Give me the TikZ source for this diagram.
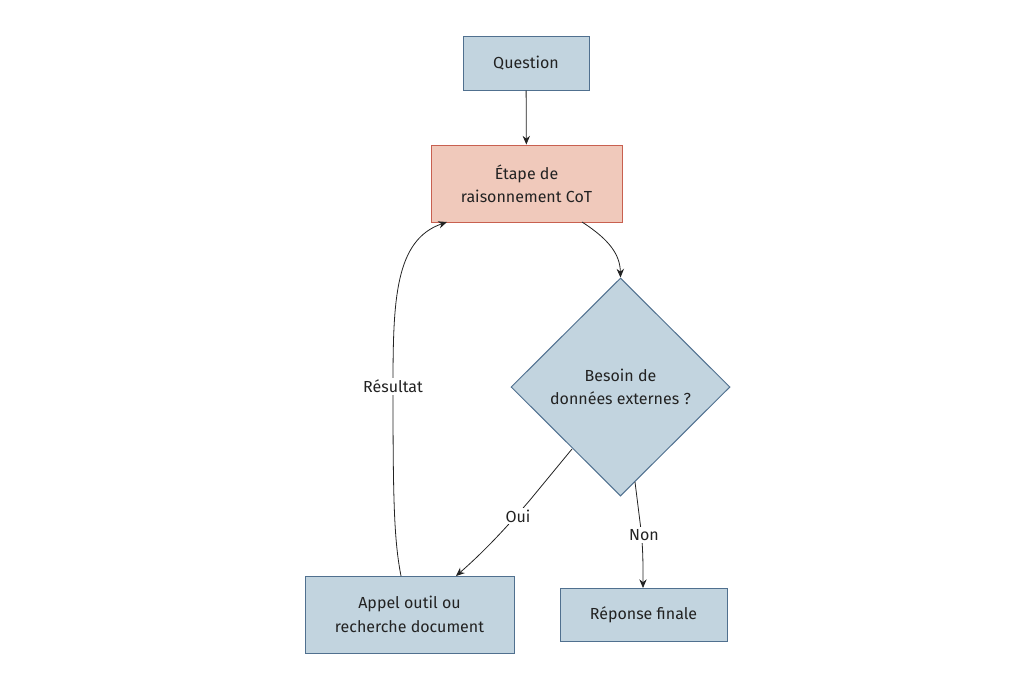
\documentclass[tikz,border=0pt]{standalone}
\usepackage{fontspec}
\setmainfont{Fira Sans}
\usetikzlibrary{shapes.geometric,arrows.meta,calc}
\definecolor{bfill}{HTML}{C2D4DF}
\definecolor{bdraw}{HTML}{50708F}
\definecolor{rfill}{HTML}{F0C9BB}
\definecolor{rdraw}{HTML}{C86050}
\definecolor{ink}{HTML}{222222}
\tikzset{
  box/.style={rectangle, fill=bfill, draw=bdraw, line width=0.75pt, align=center, inner sep=0pt, font=\fontsize{12}{17.5}\selectfont, text=ink},
  redbox/.style={box, fill=rfill, draw=rdraw},
  dec/.style={diamond, fill=bfill, draw=bdraw, line width=0.75pt, align=center, inner sep=0pt, font=\fontsize{12}{17.5}\selectfont, text=ink},
  conn/.style={draw=ink, line width=0.6pt, -{Stealth[length=6.5pt,width=5.5pt]}},
  lbl/.style={fill=white, inner sep=1.5pt, font=\fontsize{12}{14}\selectfont, text=ink}
}
\begin{document}
\begin{tikzpicture}[x=0.75pt,y=-0.75pt]
\useasboundingbox (0,0) rectangle (1035,690);
\node[box, minimum width=126*0.75pt, minimum height=54*0.75pt] (q) at (526,63) {Question};
\node[redbox, minimum width=191*0.75pt, minimum height=77*0.75pt] (cot) at (526.5,183.5) {Étape de\\raisonnement CoT};
\node[dec, minimum width=219*0.75pt, minimum height=218*0.75pt] (d) at (620.5,387) {Besoin de\\données externes ?};
\node[box, minimum width=209*0.75pt, minimum height=77*0.75pt] (app) at (409.5,614.5) {Appel outil ou\\recherche document};
\node[box, minimum width=167*0.75pt, minimum height=53*0.75pt] (rep) at (643.5,614.5) {Réponse finale};

\draw[conn] (q) -- (cot);
\coordinate (c1) at (582,222);
\coordinate (d1) at (572,449);
\coordinate (a1) at (456,576);
\coordinate (d2) at (635,482);
\coordinate (r1) at (643,588);
\coordinate (a2) at (401,576);
\coordinate (c2) at (447,222);
\coordinate (mid) at (393,387);
\draw[conn] (c1) .. controls (610,240) and (620,255) .. (d.north);
\draw[conn] (d1) -- (530,500) .. controls (500,535) and (480,555) .. (a1);
\node[lbl] (oui) at (518,516) {Oui};
\draw[conn] (d2) -- (641,530) .. controls (643,550) and (643,560) .. (r1);
\node[lbl] (non) at (644,535) {Non};
\draw[conn] (a2) .. controls (394,540) and (393,500) .. (mid) .. controls (393,300) and (395,240) .. (c2);
\node[lbl] (res) at (393,386) {Résultat};
\end{tikzpicture}
\end{document}
